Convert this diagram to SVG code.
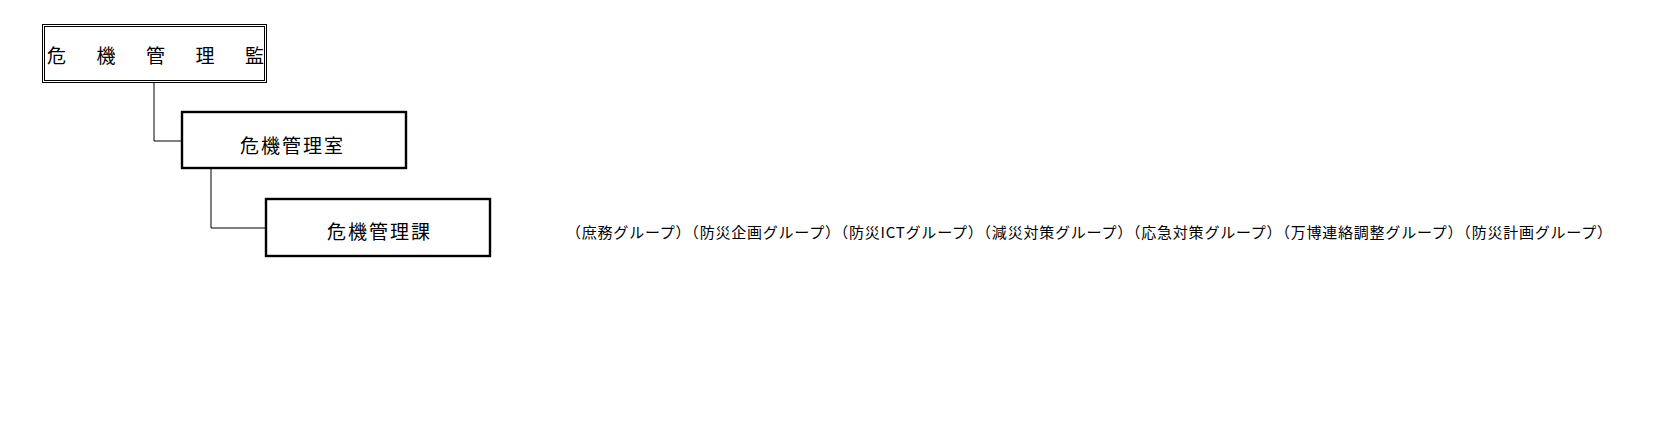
<svg xmlns="http://www.w3.org/2000/svg" width="1653" height="427" viewBox="0 0 1653 427">
<style>
.t{font-family:"Noto Sans CJK JP","Noto Sans",sans-serif;fill:#000;dominant-baseline:central}
.box{fill:#fff;stroke:#000;stroke-width:2.4}
.thin{fill:none;stroke:#000;stroke-width:1}
.conn{fill:none;stroke:#000;stroke-width:1}
</style>
<rect width="1653" height="427" fill="#fff"/>
<g id="connectors">
<polyline class="conn" points="154,83 154,141 182,141"/>
<polyline class="conn" points="211,168 211,228 266,228"/>
</g>
<g id="node-kanrikan">
<rect x="42.5" y="24.5" width="224" height="58" fill="#fff" class="thin"/>
<rect x="44.5" y="26.5" width="220" height="54" class="thin"/>
<text class="t" font-size="19" y="54"><tspan x="47">危</tspan><tspan x="96.5">機</tspan><tspan x="146">管</tspan><tspan x="195.5">理</tspan><tspan x="245">監</tspan></text>
</g>
<g id="node-shitsu">
<rect x="182" y="112" width="224" height="56" class="box"/>
<text class="t" font-size="19" x="240" y="144" textLength="103" lengthAdjust="spacing">危機管理室</text>
</g>
<g id="node-ka">
<rect x="266" y="199" width="224" height="57" class="box"/>
<text class="t" font-size="19" x="327" y="230" textLength="103" lengthAdjust="spacing">危機管理課</text>
</g>
<g id="groups">
<text class="t" font-size="15" x="566" y="231" textLength="1046" lengthAdjust="spacing">（庶務グループ）（防災企画グループ）（防災ICTグループ）（減災対策グループ）（応急対策グループ）（万博連絡調整グループ）（防災計画グループ）</text>
</g>
</svg>
